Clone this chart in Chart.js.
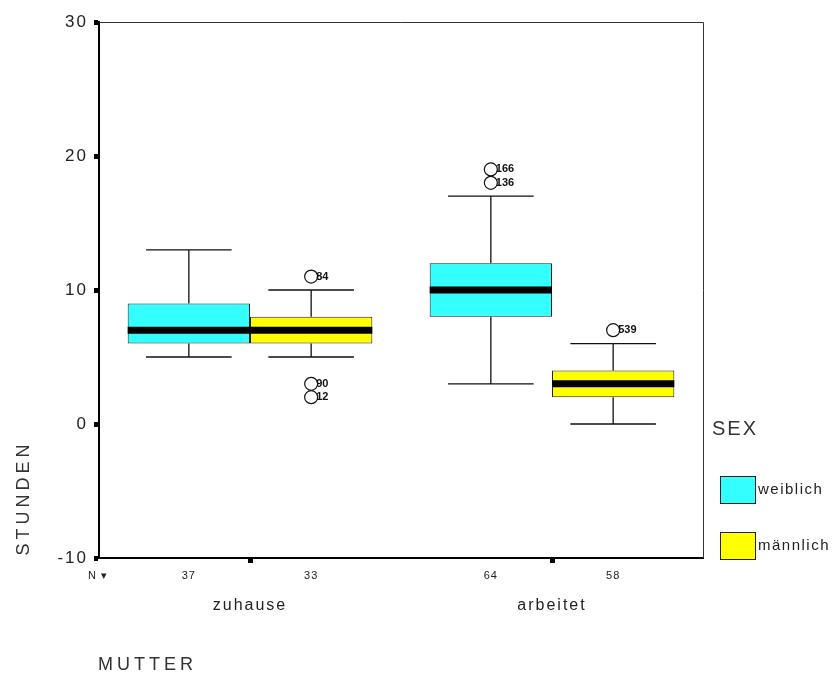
<!DOCTYPE html>
<html>
<head>
<meta charset="utf-8">
<script src="https://cdn.jsdelivr.net/npm/chart.js@4"></script>
<style>
  html, body { margin: 0; padding: 0; background: #fff; }
  #wrap { width: 837px; height: 679px; }
</style>
</head>
<body>
<div id="wrap"><canvas id="myChart" width="837" height="679"></canvas></div>
<script>
// MUTTER groups and SEX series
var groups = ['zuhause', 'arbeitet'];
var seriesNames = ['weiblich', 'männlich'];
var yTicks = [-10, 0, 10, 20, 30];

var weiblichMin = [5, 3];
var weiblichQ1 = [6, 8];
var weiblichMedian = [7, 10];
var weiblichQ3 = [9, 12];
var weiblichMax = [13, 17];
var weiblichN = [37, 64];
var weiblichOutliers = [[], [19, 18]];
var weiblichOutlierIds = [[], ['166', '136']];

var maennlichMin = [5, 0];
var maennlichQ1 = [6, 2];
var maennlichMedian = [7, 3];
var maennlichQ3 = [8, 4];
var maennlichMax = [10, 6];
var maennlichN = [33, 58];
var maennlichOutliers = [[11, 3, 2], [7]];
var maennlichOutlierIds = [['84', '90', '12'], ['539']];

var boxStats = [
    { min: weiblichMin, med: weiblichMedian, max: weiblichMax, n: weiblichN, out: weiblichOutliers, ids: weiblichOutlierIds },
    { min: maennlichMin, med: maennlichMedian, max: maennlichMax, n: maennlichN, out: maennlichOutliers, ids: maennlichOutlierIds }
];
var colors = ['#33ffff', '#ffff00'];

var font = 'Liberation Sans, Arial, sans-serif';

var boxPlugin = {
    id: 'boxExtras',
    beforeDraw: function(chart) {
        chart.ctx.letterSpacing = '2px';
    },
    afterDatasetsDraw: function(chart) {
        var c = chart.ctx, y = chart.scales.y, a = chart.chartArea;
        c.save();
        // frame
        c.strokeStyle = '#333';
        c.lineWidth = 1;
        c.beginPath();
        c.moveTo(a.left, a.top + 0.5);
        c.lineTo(a.right + 0.5, a.top + 0.5);
        c.lineTo(a.right + 0.5, a.bottom);
        c.stroke();

        chart.data.datasets.forEach(function(ds, di) {
            var s = boxStats[di];
            chart.getDatasetMeta(di).data.forEach(function(bar, i) {
                var cx = bar.x, w = bar.width;
                var half = bar.width / 2;
                var cap = w * 0.35;
                var q1 = ds.data[i][0], q3 = ds.data[i][1];
                c.strokeStyle = '#111';
                c.lineWidth = 1.3;
                c.beginPath();
                c.moveTo(cx, y.getPixelForValue(q3));
                c.lineTo(cx, y.getPixelForValue(s.max[i]));
                c.moveTo(cx - cap, y.getPixelForValue(s.max[i]));
                c.lineTo(cx + cap, y.getPixelForValue(s.max[i]));
                c.moveTo(cx, y.getPixelForValue(q1));
                c.lineTo(cx, y.getPixelForValue(s.min[i]));
                c.moveTo(cx - cap, y.getPixelForValue(s.min[i]));
                c.lineTo(cx + cap, y.getPixelForValue(s.min[i]));
                c.stroke();
                // median
                c.lineWidth = 7;
                c.strokeStyle = '#000';
                c.beginPath();
                c.moveTo(cx - half, y.getPixelForValue(s.med[i]));
                c.lineTo(cx + half, y.getPixelForValue(s.med[i]));
                c.stroke();
                // outliers
                c.lineWidth = 1.2;
                c.letterSpacing = '0px';
                c.font = 'bold 11px ' + font;
                c.textBaseline = 'middle';
                c.textAlign = 'left';
                s.out[i].forEach(function(v, k) {
                    var py = y.getPixelForValue(v);
                    c.beginPath();
                    c.arc(cx, py, 6.5, 0, Math.PI * 2);
                    c.fillStyle = '#fff';
                    c.fill();
                    c.strokeStyle = '#111';
                    c.stroke();
                    c.fillStyle = '#111';
                    c.fillText(s.ids[i][k], cx + 5, py);
                });
                // N counts
                c.letterSpacing = '1px';
                c.font = '11px ' + font;
                c.textAlign = 'center';
                c.fillStyle = '#222';
                c.fillText(String(s.n[i]), cx, a.bottom + 18);
            });
        });
        c.font = '11px ' + font;
        c.textAlign = 'left';
        c.fillStyle = '#222';
        c.fillText('N \u25BE', a.left - 11, a.bottom + 18);

        // axis titles
        c.letterSpacing = '4px';
        c.font = '18px ' + font;
        c.fillStyle = '#333';
        c.textAlign = 'center';
        c.save();
        c.translate(24, 498);
        c.rotate(-Math.PI / 2);
        c.fillText('STUNDEN', 0, 0);
        c.restore();
        c.textAlign = 'left';
        c.fillText('MUTTER', 98, 665);

        // legend
        c.letterSpacing = '2px';
        c.font = '20px ' + font;
        c.fillText('SEX', 712, 429);
        c.letterSpacing = '1.5px';
        c.font = '15px ' + font;
        seriesNames.forEach(function(name, k) {
            var top = 476 + k * 56;
            c.fillStyle = colors[k];
            c.fillRect(720, top, 35, 27);
            c.strokeStyle = '#222';
            c.lineWidth = 1;
            c.strokeRect(720.5, top + 0.5, 35, 27);
            c.fillStyle = '#222';
            c.fillText(name, 758, top + 14);
        });
        c.restore();
    }
};

var ctx = document.getElementById('myChart').getContext('2d');
var myChart = new Chart(ctx, {
    type: 'bar',
    data: {
        labels: groups,
        datasets: [{
            label: seriesNames[0],
            data: weiblichQ1.map(function(q, i) { return [q, weiblichQ3[i]]; }),
            backgroundColor: colors[0],
            borderColor: '#222',
            borderWidth: 1,
            borderSkipped: false
        }, {
            label: seriesNames[1],
            data: maennlichQ1.map(function(q, i) { return [q, maennlichQ3[i]]; }),
            backgroundColor: colors[1],
            borderColor: '#222',
            borderWidth: 1,
            borderSkipped: false
        }]
    },
    options: {
        responsive: false,
        animation: false,
        layout: { padding: { top: 22, right: 134, left: 0, bottom: 0 } },
        plugins: {
            legend: { display: false },
            tooltip: { enabled: false }
        },
        datasets: { bar: { categoryPercentage: 0.81, barPercentage: 1 } },
        scales: {
            x: {
                grid: { offset: false, drawOnChartArea: false, tickLength: 5, tickWidth: 5, tickColor: '#000' },
                border: { color: '#000', width: 2 },
                ticks: { padding: 33, color: '#222', font: { family: font, size: 16 } },
                afterFit: function(scale) { scale.height = 121; }
            },
            y: {
                min: -10,
                max: 30,
                afterBuildTicks: function(scale) { scale.ticks = yTicks.map(function(v) { return { value: v }; }); },
                grid: { drawOnChartArea: false, tickLength: 5, tickWidth: 5, tickColor: '#000' },
                border: { color: '#000', width: 2 },
                ticks: { padding: 6, color: '#222', font: { family: font, size: 17 } },
                afterFit: function(scale) { scale.width = 99; }
            }
        }
    },
    plugins: [boxPlugin]
});
</script>
</body>
</html>
